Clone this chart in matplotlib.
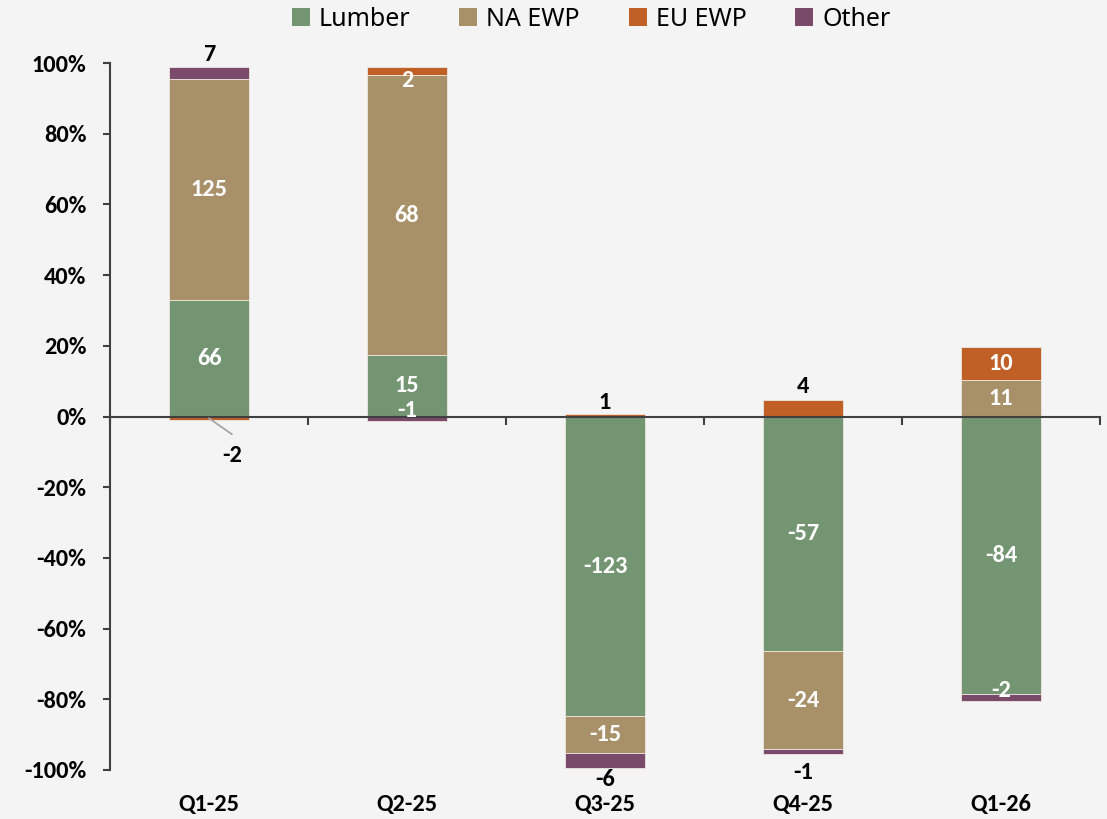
import matplotlib
matplotlib.use('Agg')
import matplotlib.pyplot as plt
import numpy as np
from matplotlib.patches import Patch
from matplotlib.ticker import FuncFormatter
from matplotlib import font_manager as fm

# pick a family that really has a bold face installed
_bold = {f.name for f in fm.fontManager.ttflist
         if (isinstance(f.weight, int) and f.weight >= 600) or f.weight in ('bold', 'semibold', 'demibold')}
BOLD_FAMILY = 'DejaVu Sans'
for cand in ['Carlito', 'Lato', 'Noto Sans', 'Open Sans', 'Liberation Sans', 'Roboto', 'Inter']:
    if cand in _bold:
        BOLD_FAMILY = cand
        break
BOLD_SIZE = 17.5 if BOLD_FAMILY == 'Carlito' else 16

plt.rcParams['font.family'] = ['Noto Sans', 'DejaVu Sans']

# ---------------- data ----------------
categories = ['Q1-25', 'Q2-25', 'Q3-25', 'Q4-25', 'Q1-26']
series_names = ['Lumber', 'NA EWP', 'EU EWP', 'Other']
lumber = [66, 15, -123, -57, -84]
na_ewp = [125, 68, -15, -24, 11]
eu_ewp = [-2, 2, 1, 4, 10]
other = [7, -1, -6, -1, -2]
ytick_values = [-100, -80, -60, -40, -20, 0, 20, 40, 60, 80, 100]

# ---------------- styles ----------------
colors = ['#739572', '#A89168', '#C06027', '#7A4A6A']
bg = '#F4F4F4'
axis_col = '#404040'

# label placement overrides: (series, category) -> (mode, color, dx_pt, dy_pt)
label_style = {
    (3, 0): ('above', 'black', 0, 4),
    (2, 0): ('leader', 'black', 17, -27),
    (2, 1): ('in', 'white', 0, -7),
    (3, 1): ('in', 'white', 0, 6),
    (2, 2): ('above', 'black', 0, 4),
    (3, 2): ('below', 'black', 0, -1),
    (2, 3): ('above', 'black', 0, 5),
    (3, 3): ('below', 'black', 0, -6),
    (3, 4): ('in', 'white', 0, 5),
}
leader_end_pt = (16.5, -11.5)

series = [lumber, na_ewp, eu_ewp, other]
vals = np.array(series, dtype=float)            # shape (4, 5)
totals = np.abs(vals).sum(axis=0)
pct = vals / totals * 100.0

fig = plt.figure(figsize=(11.07, 8.19), dpi=100, facecolor=bg)
ax = fig.add_axes([110 / 1107, 1 - 770 / 819, 990 / 1107, 707 / 819])
ax.set_facecolor(bg)

x = np.arange(len(categories))
width = 0.40
pos_base = np.zeros(len(categories))
neg_base = np.zeros(len(categories))

seg_info = {}
for s in range(len(series)):
    p = pct[s]
    bottoms = np.where(p >= 0, pos_base, neg_base)
    ax.bar(x, p, width=width, bottom=bottoms, color=colors[s],
           edgecolor='#EDE6E0', linewidth=0.6, zorder=2)
    for i in range(len(categories)):
        seg_info[(s, i)] = (bottoms[i], bottoms[i] + p[i])
    pos_base = np.where(p >= 0, pos_base + p, pos_base)
    neg_base = np.where(p < 0, neg_base + p, neg_base)

# data labels
for (s, i), (b0, b1) in seg_info.items():
    txt = f"{int(vals[s, i])}"
    mode, col, dx, dy = label_style.get((s, i), ('in', 'white', 0, 0))
    kw = dict(fontsize=BOLD_SIZE, fontweight='bold', family=[BOLD_FAMILY, 'DejaVu Sans'],
              color=col, ha='center', textcoords='offset points', zorder=5)
    if mode == 'in':
        ax.annotate(txt, xy=(i, (b0 + b1) / 2), xytext=(dx, dy), va='center', **kw)
    elif mode == 'above':
        ax.annotate(txt, xy=(i, max(b0, b1)), xytext=(dx, dy), va='baseline', **kw)
    elif mode == 'below':
        ax.annotate(txt, xy=(i, min(b0, b1)), xytext=(dx, dy), va='top', **kw)
    elif mode == 'leader':
        ymid = (b0 + b1) / 2
        ax.annotate(txt, xy=(i, ymid), xytext=(dx, dy), va='center', **kw)
        ax.annotate('', xy=(i, ymid), xytext=leader_end_pt, textcoords='offset points',
                    arrowprops=dict(arrowstyle='-', color='#A6A6A6', lw=1.3,
                                    shrinkA=0, shrinkB=0), zorder=4)

# axes styling
ax.set_xlim(-0.5, len(categories) - 0.5)
ax.set_ylim(-100, 100)
ax.spines['top'].set_visible(False)
ax.spines['right'].set_visible(False)
ax.spines['bottom'].set_position(('data', 0))
for sp in ('left', 'bottom'):
    ax.spines[sp].set_color(axis_col)
    ax.spines[sp].set_linewidth(1.5)
    ax.spines[sp].set_zorder(3)

ax.set_yticks(ytick_values)
ax.yaxis.set_major_formatter(FuncFormatter(lambda v, _: f"{int(v)}%"))
ax.tick_params(axis='y', direction='out', length=5, width=1.5, color=axis_col,
               pad=12, labelsize=BOLD_SIZE)
for lab in ax.get_yticklabels():
    lab.set_fontweight('bold')
    lab.set_family([BOLD_FAMILY, 'DejaVu Sans'])

ax.set_xticks(np.arange(len(categories) + 1) - 0.5)
ax.set_xticklabels([])
ax.tick_params(axis='x', direction='out', length=6, width=1.5, color=axis_col)

for i, c in enumerate(categories):
    ax.annotate(c, xy=(i, -100), xytext=(0, -17), textcoords='offset points',
                ha='center', va='top', fontsize=BOLD_SIZE, fontweight='bold',
                family=[BOLD_FAMILY, 'DejaVu Sans'], color='black')

# legend
handles = [Patch(facecolor=colors[k], edgecolor='none') for k in range(len(series_names))]
fig.legend(handles, series_names, loc='center left',
           bbox_to_anchor=(292 / 1107, 1 - 19 / 819), ncol=4, frameon=False,
           fontsize=18, handlelength=0.72, handleheight=0.72, handletextpad=0.36,
           columnspacing=1.95, borderpad=0, borderaxespad=0)

fig.savefig('out.png', dpi=100, facecolor=bg)
